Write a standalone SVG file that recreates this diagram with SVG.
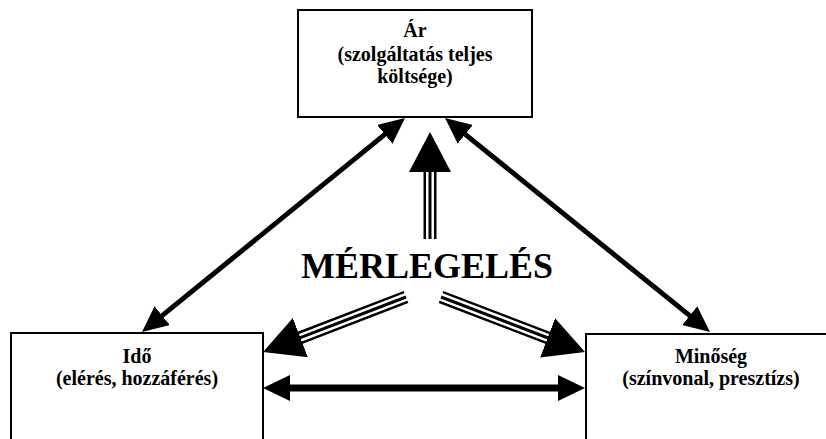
<svg xmlns="http://www.w3.org/2000/svg" width="826" height="439" viewBox="0 0 826 439">
  <defs>
    <style>
      .box { fill: #ffffff; stroke: #000000; stroke-width: 2; }
      .label { font-family: "Liberation Serif", "Times New Roman", serif; font-weight: bold; font-size: 20px; fill: #000000; text-anchor: middle; }
      .title { font-family: "Liberation Serif", "Times New Roman", serif; font-weight: bold; font-size: 36px; fill: #000000; text-anchor: middle; }
      .solid { fill: none; stroke: #000000; stroke-width: 5; }
      .solid-thick { fill: none; stroke: #000000; stroke-width: 7; }
      .tri-outer { fill: none; stroke: #000000; stroke-width: 13; }
      .tri-gap { fill: none; stroke: #ffffff; stroke-width: 8; }
      .tri-core { fill: none; stroke: #000000; stroke-width: 3; }
    </style>
    <!-- head for the two-way links between the factors -->
    <marker id="head" markerUnits="userSpaceOnUse" markerWidth="26" markerHeight="24" refX="2" refY="12" orient="auto-start-reverse">
      <path d="M0,0 L26,12 L0,24 Z" fill="#000000"/>
    </marker>
    <marker id="head-h" markerUnits="userSpaceOnUse" markerWidth="27" markerHeight="26" refX="2" refY="13" orient="auto-start-reverse">
      <path d="M0,0 L27,13 L0,26 Z" fill="#000000"/>
    </marker>
    <!-- larger head for the triple-line arrows -->
    <marker id="head-big" markerUnits="userSpaceOnUse" markerWidth="40" markerHeight="42" refX="2" refY="21" orient="auto">
      <path d="M0,0 L40,21 L0,42 Z" fill="#000000"/>
    </marker>
  </defs>

  <g id="node-ar">
    <rect class="box" x="298" y="10" width="234" height="107"/>
    <text class="label" x="415" y="37">Ár</text>
    <text class="label" x="415" y="61">(szolgáltatás teljes</text>
    <text class="label" x="415" y="83">költsége)</text>
  </g>

  <g id="node-ido">
    <rect class="box" x="11" y="333" width="252" height="120"/>
    <text class="label" x="137" y="363">Idő</text>
    <text class="label" x="137" y="385">(elérés, hozzáférés)</text>
  </g>

  <g id="node-minoseg">
    <rect class="box" x="586" y="334" width="252" height="120"/>
    <text class="label" x="711" y="363">Minőség</text>
    <text class="label" x="711" y="385">(színvonal, presztízs)</text>
  </g>

  <g id="node-merlegeles">
    <text class="title" x="427" y="278">MÉRLEGELÉS</text>
  </g>

  <g id="connectors">
    <!-- two-way links -->
    <line class="solid" x1="160.6" y1="316.9" x2="386.4" y2="133.1" marker-start="url(#head)" marker-end="url(#head)"/>
    <line class="solid" x1="463.7" y1="133.1" x2="691.3" y2="316.9" marker-start="url(#head)" marker-end="url(#head)"/>
    <line class="solid-thick" x1="288" y1="388" x2="560" y2="388" marker-start="url(#head-h)" marker-end="url(#head-h)"/>

    <!-- triple-line arrows from the weighing -->
    <g>
      <line class="tri-outer" x1="430" y1="239" x2="430" y2="170"/>
      <line class="tri-gap" x1="430" y1="240" x2="430" y2="170"/>
      <line class="tri-core" x1="430" y1="239" x2="430" y2="170" marker-end="url(#head-big)"/>
    </g>
    <g>
      <line class="tri-outer" x1="406" y1="297" x2="298.5" y2="338.4"/>
      <line class="tri-gap" x1="407" y1="296.6" x2="298.5" y2="338.4"/>
      <line class="tri-core" x1="406" y1="297" x2="298.5" y2="338.4" marker-end="url(#head-big)"/>
    </g>
    <g>
      <line class="tri-outer" x1="441" y1="297" x2="549.5" y2="338.5"/>
      <line class="tri-gap" x1="440" y1="296.6" x2="549.5" y2="338.5"/>
      <line class="tri-core" x1="441" y1="297" x2="549.5" y2="338.5" marker-end="url(#head-big)"/>
    </g>
  </g>
</svg>
